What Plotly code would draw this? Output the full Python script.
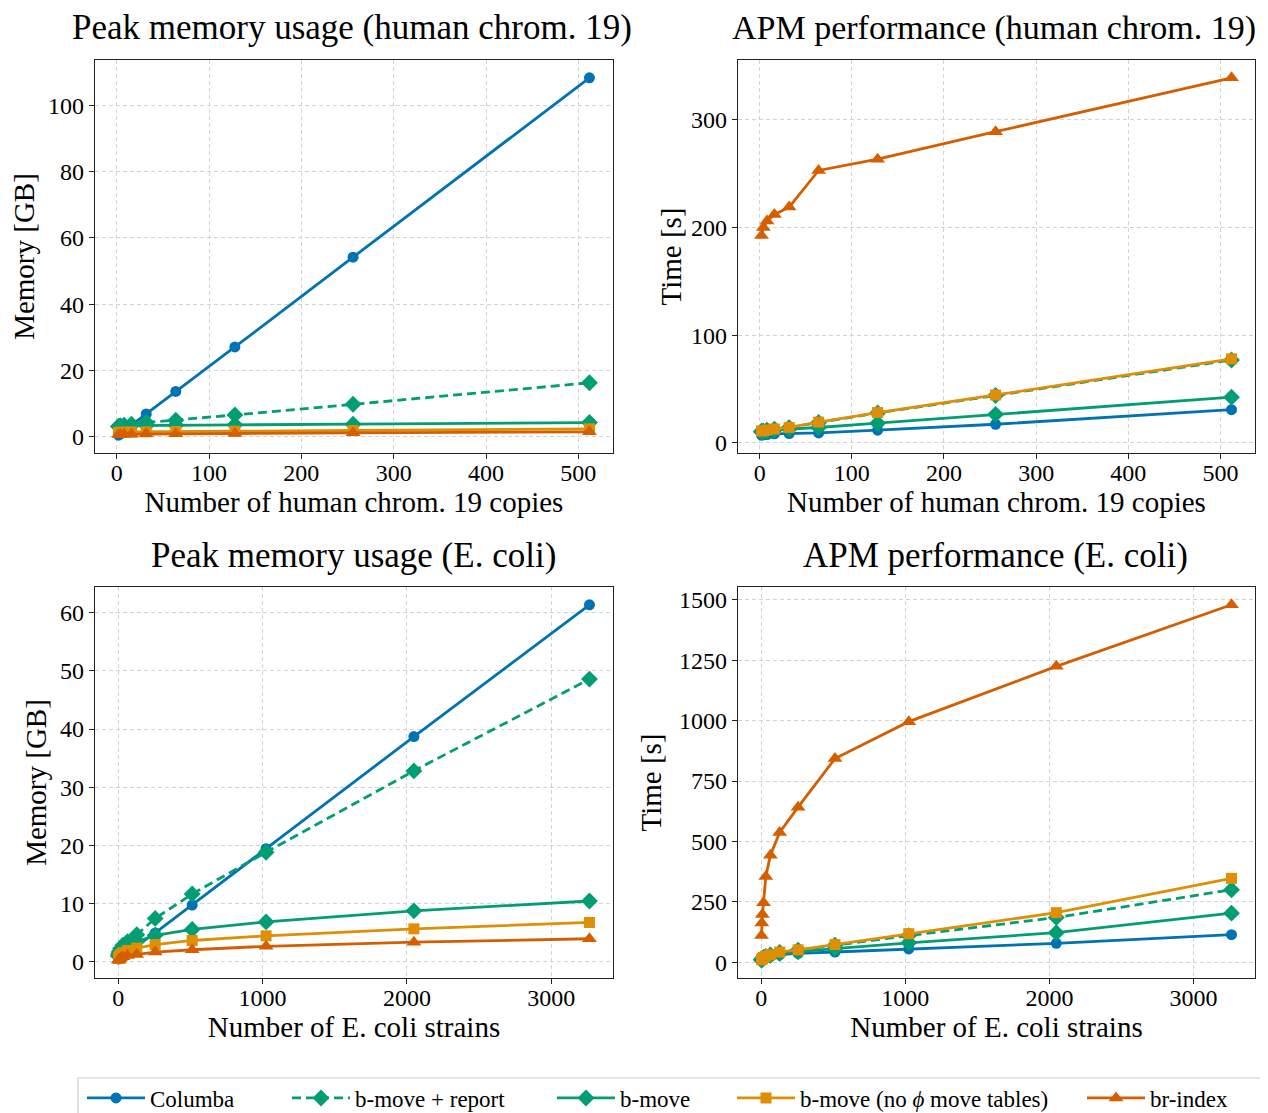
import plotly.graph_objects as go

# ---------------- data ----------------
human_copies = [2, 4, 8, 16, 32, 64, 128, 256, 512]
ecoli_strains = [2, 4, 8, 16, 32, 64, 128, 256, 512, 1024, 2048, 3264]

series_names = ["Columba", "b-move + report", "b-move",
                "b-move (no <i>ϕ</i> move tables)", "br-index"]

# Peak memory (GB), human chrom. 19
hmem_columba = [0.5, 0.9, 1.8, 3.5, 6.9, 13.7, 27.1, 54.2, 108.3]
hmem_report = [3.2, 3.3, 3.5, 3.8, 4.3, 5.0, 6.6, 9.8, 16.3]
hmem_bmove = [3.1, 3.2, 3.3, 3.4, 3.4, 3.5, 3.6, 3.8, 4.3]
hmem_nophi = [1.3, 1.4, 1.4, 1.5, 1.5, 1.6, 1.7, 1.9, 2.4]
hmem_brindex = [0.7, 0.7, 0.8, 0.8, 0.9, 0.9, 1.0, 1.2, 1.5]

# APM time (s), human chrom. 19
htime_columba = [7.2, 7.5, 7.8, 8.4, 8.7, 9.3, 11.8, 17.3, 30.8]
htime_report = [10.8, 11.2, 11.8, 12.7, 14.2, 19.0, 27.8, 44.0, 77.0]
htime_bmove = [10.0, 10.5, 11.0, 12.0, 12.8, 14.3, 18.3, 26.5, 42.5]
htime_nophi = [11.0, 11.4, 12.0, 12.9, 14.4, 19.3, 28.2, 44.5, 78.0]
htime_brindex = [192.5, 200, 206, 212, 219, 253, 263.5, 289, 339]

# Peak memory (GB), E. coli
emem_columba = [0.4, 0.5, 0.7, 0.9, 1.2, 1.7, 2.7, 4.9, 9.7, 19.4, 38.7, 61.4]
emem_report = [1.0, 1.3, 1.7, 2.2, 2.8, 3.4, 4.6, 7.4, 11.6, 18.8, 32.8, 48.6]
emem_bmove = [0.9, 1.2, 1.5, 1.9, 2.3, 2.8, 3.4, 4.5, 5.5, 6.8, 8.7, 10.4]
emem_nophi = [0.5, 0.7, 0.9, 1.2, 1.5, 1.9, 2.3, 2.9, 3.6, 4.4, 5.6, 6.7]
emem_brindex = [0.2, 0.3, 0.4, 0.6, 0.8, 1.0, 1.2, 1.6, 2.0, 2.6, 3.3, 3.9]

# APM time (s), E. coli
etime_columba = [8, 10, 12, 15, 18, 24, 31, 36, 42, 55, 78, 114]
etime_report = [10, 12, 15, 19, 24, 30, 40, 50, 70, 110, 185, 300]
etime_bmove = [9, 11, 14, 18, 22, 28, 36, 43, 56, 80, 122, 203]
etime_nophi = [10, 12, 15, 20, 25, 31, 42, 51, 73, 118, 205, 347]
etime_brindex = [110, 162, 197, 246, 355, 443, 537, 642, 843, 996, 1225, 1480]

colors = ["#0173b2", "#029e73", "#029e73", "#de8f05", "#d55e00"]
symbols = ["circle", "diamond", "diamond", "square", "triangle-up"]
msizes = [11, 13, 13, 11, 13]
dashes = ["solid", "9px,5px", "solid", "solid", "solid"]

panels = [
    dict(x=human_copies, ys=[hmem_columba, hmem_report, hmem_bmove, hmem_nophi, hmem_brindex],
         title="Peak memory usage (human chrom. 19)", xlab="Number of human chrom. 19 copies",
         ylab="Memory [GB]", xticks=[0, 100, 200, 300, 400, 500], yticks=[0, 20, 40, 60, 80, 100]),
    dict(x=human_copies, ys=[htime_columba, htime_report, htime_bmove, htime_nophi, htime_brindex],
         title="APM performance (human chrom. 19)", xlab="Number of human chrom. 19 copies",
         ylab="Time [s]", xticks=[0, 100, 200, 300, 400, 500], yticks=[0, 100, 200, 300]),
    dict(x=ecoli_strains, ys=[emem_columba, emem_report, emem_bmove, emem_nophi, emem_brindex],
         title="Peak memory usage (E. coli)", xlab="Number of E. coli strains",
         ylab="Memory [GB]", xticks=[0, 1000, 2000, 3000], yticks=[0, 10, 20, 30, 40, 50, 60]),
    dict(x=ecoli_strains, ys=[etime_columba, etime_report, etime_bmove, etime_nophi, etime_brindex],
         title="APM performance (E. coli)", xlab="Number of E. coli strains",
         ylab="Time [s]", xticks=[0, 1000, 2000, 3000], yticks=[0, 250, 500, 750, 1000, 1250, 1500]),
]

W, H = 1268, 1113
OFF = 8  # page body margin in the browser
# plot-area boxes in page pixels (left, right, top, bottom)
boxes = [(95, 613, 60, 453), (738, 1255, 60, 453), (95, 613, 587, 978), (738, 1255, 587, 978)]
ystand = [11, 0, 4, 8]
title_cx = [352.5, 993.5, 353.5, 995.5]
title_size = [35, 34, 35, 35]


def px(v):
    return (v - OFF) / W


def py(v):
    return 1 - (v - OFF) / H


FONT = "Liberation Serif"
fig = go.Figure()
legend_ids = ["legend", "legend2", "legend3", "legend4", "legend5"]

for p, panel in enumerate(panels):
    ax = "" if p == 0 else str(p + 1)
    for s in range(5):
        fig.add_trace(go.Scatter(
            x=panel["x"], y=panel["ys"][s], mode="lines+markers",
            name=series_names[s],
            line=dict(color=colors[s], width=2.8, dash=dashes[s]),
            marker=dict(symbol=symbols[s], size=msizes[s], color=colors[s]),
            xaxis="x" + ax, yaxis="y" + ax,
            showlegend=(p == 0), legend=legend_ids[s],
        ))
    l, r, t, b = boxes[p]
    xmin, xmax = min(panel["x"]), max(panel["x"])
    allv = [v for ys in panel["ys"] for v in ys]
    ymin, ymax = min(allv), max(allv)
    xm, ym = 0.05 * (xmax - xmin), 0.05 * (ymax - ymin)
    common = dict(showline=True, mirror=True, linecolor="#222", linewidth=1.2,
                  ticks="outside", ticklen=5, tickwidth=1.2, tickcolor="#222",
                  showgrid=True, gridcolor="#d3d3d3", griddash="4px,3px", gridwidth=1,
                  zeroline=False, tickfont=dict(family=FONT, size=24, color="black"),
                  automargin=False)
    fig.layout["xaxis" + ax] = dict(
        common, domain=[px(l), px(r)], anchor="y" + ax,
        range=[xmin - xm, xmax + xm], tickvals=panel["xticks"], ticklabelstandoff=-7,
        title=dict(text=panel["xlab"], font=dict(family=FONT, size=29, color="black"), standoff=0))
    fig.layout["yaxis" + ax] = dict(
        common, domain=[py(b), py(t)], anchor="x" + ax,
        range=[ymin - ym, ymax + ym], tickvals=panel["yticks"],
        title=dict(text=panel["ylab"], font=dict(family=FONT, size=29, color="black"),
                   standoff=ystand[p]))
    fig.add_annotation(text=panel["title"], x=px(title_cx[p]), y=py(t - 32),
                       xref="paper", yref="paper", showarrow=False, xanchor="center", yanchor="middle",
                       font=dict(family=FONT, size=title_size[p], color="black"))

# legend frame
fig.add_shape(type="rect", xref="paper", yref="paper",
              x0=px(78), x1=px(1266), y0=py(1078), y1=-0.03,
              line=dict(color="#cccccc", width=1.2), fillcolor="rgba(0,0,0,0)")

legend_x = [82, 287, 552, 732, 1082]
for i, lid in enumerate(legend_ids):
    fig.layout[lid] = dict(x=px(legend_x[i]), y=py(1098), xanchor="left", yanchor="middle",
                           orientation="h", bgcolor="rgba(0,0,0,0)", borderwidth=0,
                           font=dict(family=FONT, size=23, color="black"), itemwidth=58)

fig.update_layout(width=W, height=H, margin=dict(l=0, r=0, t=0, b=0),
                  plot_bgcolor="white", paper_bgcolor="white", showlegend=True)

fig.write_html("out.html")
